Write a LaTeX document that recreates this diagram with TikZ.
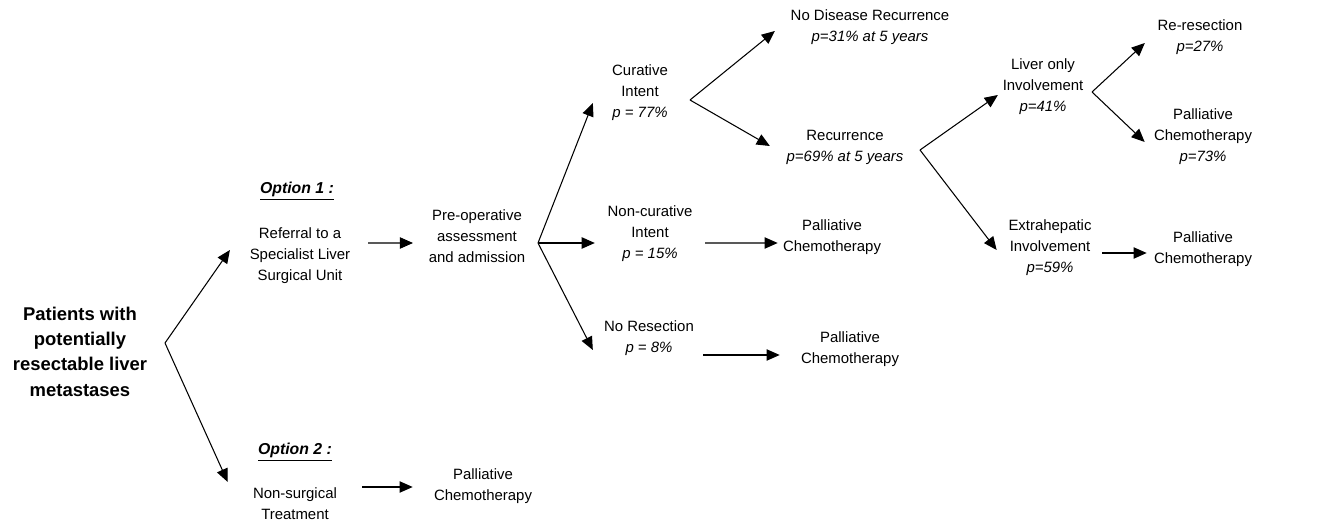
\documentclass[tikz,border=0pt]{standalone}
\usepackage{fontspec}
\setmainfont{Liberation Sans}
\usepackage{tikz}
\usetikzlibrary{arrows.meta, positioning, calc}
\tikzset{
  %% Plain centred text of the tree
  leaf/.style={
    align=center, inner sep=0pt,
    font=\fontsize{8.5}{11.9}\selectfont
  },
  %% Root text
  root/.style={
    align=center, inner sep=0pt,
    font=\bfseries\fontsize{10.5}{14.4}\selectfont
  },
  %% Option headings
  opthead/.style={
    inner sep=0pt,
    font=\bfseries\itshape\fontsize{9}{11}\selectfont
  },
  %% Arrow
  arr/.style={-{Triangle[length=7.5pt,width=6.5pt]},
              draw=black, line width=0.6pt},
}

\begin{document}
\begin{tikzpicture}[x=0.02cm, y=-0.02cm]

  \useasboundingbox (0,0) rectangle (1324,523);

  %% Root
  \node[root] (pat) at (80,351.5)
       {Patients with\\potentially\\resectable liver\\metastases};

  %% Option 1
  \node[opthead] (opt1) at (297,191) {\underline{Option 1 :}};
  \node[leaf] (ref) at (300,256) {Referral to a\\Specialist Liver\\Surgical Unit};
  \node[leaf] (pre) at (477,236.5) {Pre-operative\\assessment\\and admission};

  \node[leaf] (cur)  at (640,93)  {Curative\\Intent\\\textit{p = 77\%}};
  \node[leaf] (ncur) at (650,234) {Non-curative\\Intent\\\textit{p = 15\%}};
  \node[leaf] (nres) at (649,338) {No Resection\\\textit{p = 8\%}};

  \node[leaf] (nodis) at (870,27.5)  {No Disease Recurrence\\\textit{p=31\% at 5 years}};
  \node[leaf] (rec)   at (845,147.5) {Recurrence\\\textit{p=69\% at 5 years}};
  \node[leaf] (pal1)  at (832,237.5) {Palliative\\Chemotherapy};
  \node[leaf] (pal2)  at (850,349)   {Palliative\\Chemotherapy};

  \node[leaf] (liv) at (1043,86.5) {Liver only\\Involvement\\\textit{p=41\%}};
  \node[leaf] (ext) at (1050,248)  {Extrahepatic\\Involvement\\\textit{p=59\%}};

  \node[leaf] (rer)  at (1200,37.5)  {Re-resection\\\textit{p=27\%}};
  \node[leaf] (pal4) at (1203,136.5) {Palliative\\Chemotherapy\\\textit{p=73\%}};
  \node[leaf] (pal5) at (1203,249)   {Palliative\\Chemotherapy};

  %% Option 2
  \node[opthead] (opt2) at (295,452) {\underline{Option 2 :}};
  \node[leaf] (nons) at (295,503.5) {Non-surgical\\Treatment};
  \node[leaf] (pal0) at (483,486)   {Palliative\\Chemotherapy};

  %% Branch points
  \coordinate (b1) at (165,343);
  \coordinate (b2) at (538,243);
  \coordinate (b3) at (690,100);
  \coordinate (b4) at (920,150);
  \coordinate (b5) at (1092,92);

  %% Arrows
  \draw[arr] (b1) -- ([shift={(-19.5,-6)}]ref.west);
  \draw[arr] (b1) -- ([shift={(-25,-21.5)}]nons.west);
  \draw[arr] ([shift={(17.5,-13)}]ref.east) -- ([shift={(-15.5,6.5)}]pre.west);
  \draw[arr] ([shift={(25,-16.5)}]nons.east) -- ([shift={(-21,1)}]pal0.west);

  \draw[arr] (b2) -- ([shift={(-19,10)}]cur.west);
  \draw[arr] (b2) -- ([shift={(-12.5,9)}]ncur.west);
  \draw[arr] (b2) -- ([shift={(-11,12)}]nres.west);
  \draw[arr] ([shift={(12.5,9)}]ncur.east) -- ([shift={(-5,5.5)}]pal1.west);
  \draw[arr] ([shift={(9,17)}]nres.east) -- ([shift={(-21,6)}]pal2.west);

  \draw[arr] (b3) -- ([shift={(-15.5,3.5)}]nodis.west);
  \draw[arr] (b3) -- ([shift={(-16.5,-1.5)}]rec.west);

  \draw[arr] (b4) -- ([shift={(-4.5,8.5)}]liv.west);
  \draw[arr] (b4) -- ([shift={(-11.5,2)}]ext.west);

  \draw[arr] (b5) -- ([shift={(-12.5,5.5)}]rer.west);
  \draw[arr] (b5) -- ([shift={(-9,5.5)}]pal4.west);
  \draw[arr] ([shift={(10.5,5)}]ext.east) -- ([shift={(-7,4)}]pal5.west);

\end{tikzpicture}
\end{document}
